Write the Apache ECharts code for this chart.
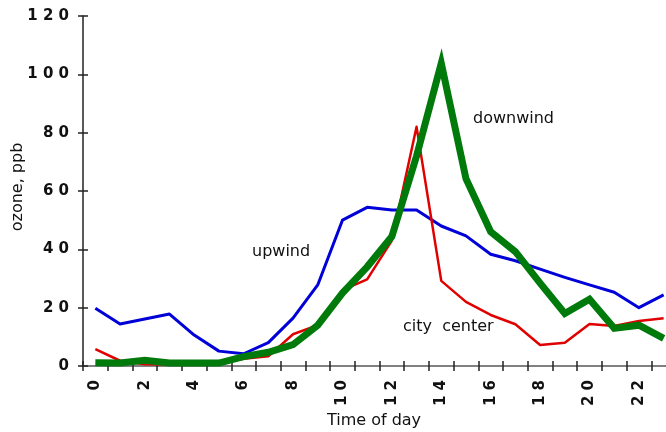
<!DOCTYPE html>
<html>
<head>
<meta charset="utf-8">
<script src="https://cdn.jsdelivr.net/npm/echarts@6/dist/echarts.min.js"></script>
<style>
html,body{margin:0;padding:0;background:#fff;}
#chart{width:666px;height:432px;}
</style>
</head>
<body>
<div id="chart"></div>
<script>
var hours = ['0','1','2','3','4','5','6','7','8','9','10','11','12','13','14','15','16','17','18','19','20','21','22','23'];
var upwind = [19.8, 14.4, 16.1, 17.8, 10.6, 5.1, 4.2, 8.0, 16.4, 27.8, 50.0, 54.4, 53.5, 53.5, 48.0, 44.6, 38.3, 36.1, 33.2, 30.4, 27.8, 25.3, 20.0, 24.4];
var cityCenter = [5.8, 1.8, 0.6, 0.5, 1.0, 1.0, 2.5, 3.3, 10.9, 14.0, 26.0, 29.7, 43.0, 82.0, 29.2, 22.0, 17.5, 14.3, 7.2, 8.0, 14.4, 13.7, 15.4, 16.4];
var downwind = [1.1, 1.0, 2.0, 1.0, 1.0, 1.0, 3.2, 4.7, 7.3, 14.0, 25.0, 34.0, 44.4, 72.0, 103.8, 64.2, 46.0, 39.2, 28.4, 18.0, 22.9, 12.9, 14.0, 9.5];
var yTicks = {min: 0, max: 120, interval: 20};
var notes = [
  {text: 'upwind', x: 252, y: 254},
  {text: 'city  center', x: 403, y: 329},
  {text: 'downwind', x: 473, y: 121}
];

function spaced(v){ return String(v).split('').join(' '); }

var chart = echarts.init(document.getElementById('chart'), null, {renderer: 'canvas'});
var labelFont = {fontFamily: 'DejaVu Sans', fontWeight: 'bold', fontSize: 15, color: '#111'};
var nameFont = {fontFamily: 'DejaVu Sans', fontSize: 16, color: '#111'};

chart.setOption({
  animation: false,
  backgroundColor: '#fff',
  grid: {left: 83, top: 16, width: 593, height: 350, containLabel: false, outerBoundsMode: 'none'},
  xAxis: [{
    type: 'category', data: hours, boundaryGap: true,
    name: 'Time of day', nameLocation: 'middle', nameGap: 47, nameMoveOverlap: false,
    nameTextStyle: Object.assign({padding: [0, 11, 0, 0]}, nameFont),
    axisLine: {lineStyle: {color: '#808080', width: 2}},
    axisTick: {show: true, interval: 0, length: 5, lineStyle: {color: '#222', width: 1.5}},
    axisLabel: Object.assign({interval: 1, rotate: 90, margin: 14, formatter: spaced}, labelFont),
    splitLine: {show: false}
  }, {
    type: 'category', data: hours, boundaryGap: true, position: 'bottom',
    axisLine: {show: false},
    axisTick: {show: true, inside: true, interval: 0, length: 5, lineStyle: {color: '#222', width: 1.5}},
    axisLabel: {show: false}, splitLine: {show: false}
  }],
  yAxis: [{
    type: 'value', min: yTicks.min, max: yTicks.max, interval: yTicks.interval,
    name: 'ozone, ppb', nameLocation: 'middle', nameGap: 57, nameRotate: 90, nameMoveOverlap: false,
    nameTextStyle: Object.assign({padding: [0, 0, 0, 8]}, nameFont),
    axisLine: {show: true, lineStyle: {color: '#222', width: 1.5}},
    axisTick: {show: true, length: 5, lineStyle: {color: '#222', width: 1.5}},
    axisLabel: Object.assign({margin: 14, formatter: spaced}, labelFont),
    splitLine: {show: false}
  }, {
    type: 'value', min: yTicks.min, max: yTicks.max, interval: yTicks.interval, position: 'left',
    axisLine: {show: false},
    axisTick: {show: true, inside: true, length: 5, lineStyle: {color: '#222', width: 1.5}},
    axisLabel: {show: false}, splitLine: {show: false}
  }],
  series: [
    {name: 'upwind', type: 'line', data: upwind, symbol: 'none', z: 2,
     lineStyle: {color: '#0000d8', width: 3, join: 'round'}},
    {name: 'city center', type: 'line', data: cityCenter, symbol: 'none', z: 3,
     lineStyle: {color: '#e00000', width: 2.5, join: 'round'}},
    {name: 'downwind', type: 'line', data: downwind, symbol: 'none', z: 4,
     lineStyle: {color: '#007a0a', width: 7, join: 'miter'}}
  ],
  graphic: notes.map(function(n){
    return {type: 'text', left: n.x, top: n.y - 10, z: 10,
      style: {text: n.text, fontFamily: 'DejaVu Sans', fontSize: 16, fill: '#111'}};
  })
});
</script>
</body>
</html>
